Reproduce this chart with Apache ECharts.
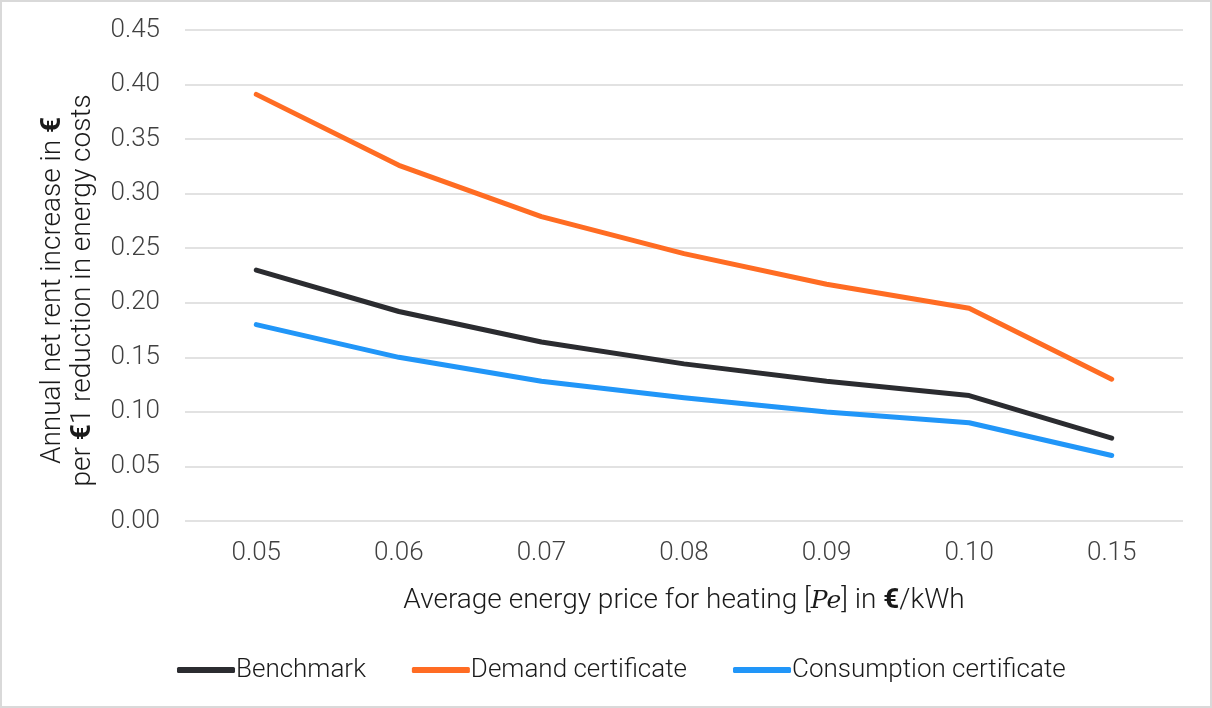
<!DOCTYPE html>
<html>
<head>
<meta charset="utf-8">
<script src="https://cdn.jsdelivr.net/npm/echarts@6/dist/echarts.min.js"></script>
<style>
html,body{margin:0;padding:0;background:#fff;}
#wrap{position:absolute;left:0;top:0;width:1212px;height:708px;box-sizing:border-box;border:2px solid #d9d9d9;}
#c{position:absolute;left:0;top:0;width:1212px;height:708px;}
</style>
</head>
<body>
<div id="wrap"></div>
<div id="c"></div>
<script>
const categories = ['0.05', '0.06', '0.07', '0.08', '0.09', '0.10', '0.15'];
const benchmark = [0.230, 0.192, 0.164, 0.144, 0.128, 0.115, 0.076];
const demand = [0.391, 0.326, 0.279, 0.245, 0.217, 0.195, 0.130];
const consumption = [0.180, 0.150, 0.128, 0.113, 0.100, 0.090, 0.060];
const yTicks = [0, 0.05, 0.10, 0.15, 0.20, 0.25, 0.30, 0.35, 0.40, 0.45];

const FONT = 'Roboto';
const TXT = '#404040';
const DARK = '#1a1a1a';
const chart = echarts.init(document.getElementById('c'));
function mk(name, data, color) {
  return {
    name: name, type: 'line', data: data, symbol: 'none',
    lineStyle: { color: color, width: 5, cap: 'round', join: 'round' },
    itemStyle: { color: color }
  };
}
chart.setOption({
  animation: false,
  textStyle: { fontFamily: FONT, fontWeight: 300 },
  grid: { left: 185, right: 29, top: 30, bottom: 187 },
  legend: {
    left: 172, top: 652, itemWidth: 58, itemHeight: 6, itemGap: 46,
    icon: 'roundRect',
    textStyle: { fontFamily: FONT, fontWeight: 300, fontSize: 26, color: DARK, padding: [0, 0, 0, -4] },
    data: ['Benchmark', 'Demand certificate', 'Consumption certificate']
  },
  xAxis: {
    type: 'category', data: categories, boundaryGap: true,
    axisLine: { show: false }, axisTick: { show: false },
    axisLabel: { fontFamily: FONT, fontWeight: 300, fontSize: 26, color: TXT, margin: 19 },
    name: 'Average energy price for heating [{i|Pe}] in {b|€}/kWh',
    nameLocation: 'middle', nameGap: 66,
    nameTextStyle: {
      fontFamily: FONT, fontWeight: 300, fontSize: 28, color: DARK,
      rich: {
        i: { fontFamily: 'DejaVu Serif', fontStyle: 'italic', fontSize: 25, color: DARK },
        b: { fontFamily: FONT, fontWeight: 'bold', fontSize: 28, color: DARK }
      }
    }
  },
  yAxis: {
    type: 'value', min: 0, max: 0.45, interval: 0.05,
    axisLine: { show: false }, axisTick: { show: false },
    splitLine: { lineStyle: { color: '#d9d9d9', width: 1.5 } },
    axisLabel: {
      fontFamily: FONT, fontWeight: 300, fontSize: 26, color: TXT, margin: 25,
      formatter: v => { const t = yTicks.find(x => Math.abs(x - v) < 1e-9); return (t !== undefined ? t : v).toFixed(2); }
    },
    name: '{a|Annual net rent increase in }{b|€}\n{a|per }{b|€}{a|1 reduction in energy costs}',
    nameLocation: 'middle', nameRotate: 90, nameGap: 87,
    nameTextStyle: {
      fontFamily: FONT, fontWeight: 300, fontSize: 28, color: DARK, lineHeight: 30,
      padding: [0, 30, 0, 0],
      rich: {
        a: { fontFamily: FONT, fontWeight: 300, fontSize: 28, color: DARK, lineHeight: 30 },
        b: { fontFamily: FONT, fontWeight: 'bold', fontSize: 28, color: DARK, lineHeight: 30 }
      }
    }
  },
  series: [
    mk('Benchmark', benchmark, '#2b2c30'),
    mk('Demand certificate', demand, '#ff6c23'),
    mk('Consumption certificate', consumption, '#2196f8')
  ]
});
</script>
</body>
</html>
